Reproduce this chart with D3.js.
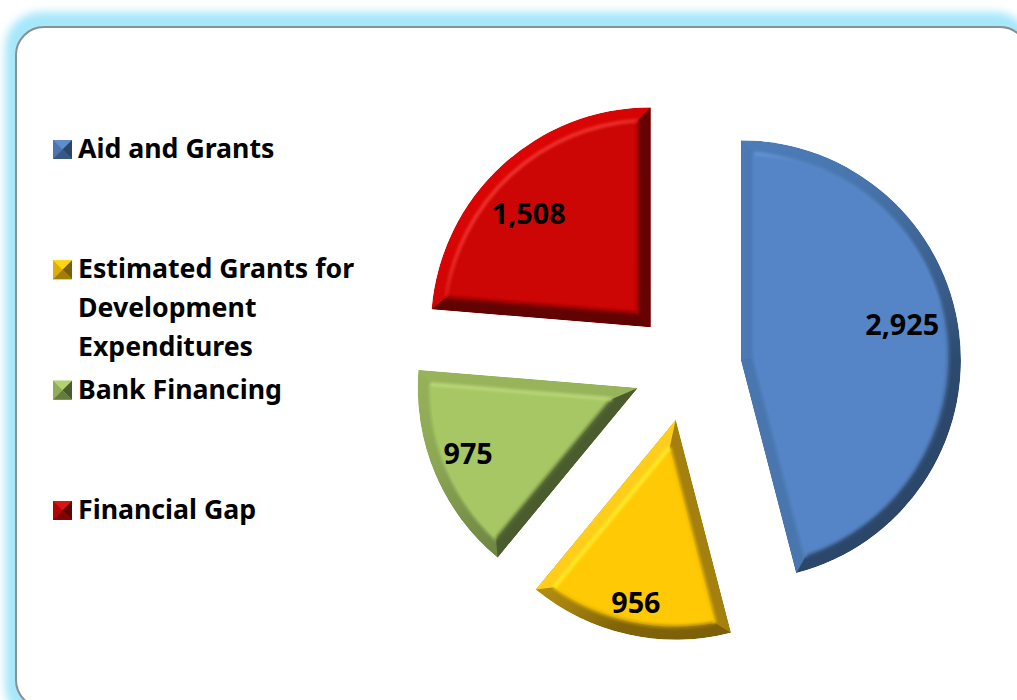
<!DOCTYPE html>
<html><head><meta charset="utf-8">
<script src="https://cdn.jsdelivr.net/npm/d3@7/dist/d3.min.js"></script>
<style>html,body{margin:0;padding:0;background:#fff;overflow:hidden}svg{display:block}</style>
</head><body><svg id="c" width="1017" height="700"></svg>
<script>
const categories = ["Aid and Grants","Estimated Grants for Development Expenditures","Bank Financing","Financial Gap"];
const legendLines = [["Aid and Grants"],["Estimated Grants for","Development","Expenditures"],["Bank Financing"],["Financial Gap"]];
const values = [2925,956,975,1508];
const valueLabels = ["2,925","956","975","1,508"];
const faceColors = ["#5585c6","#ffc906","#a6c764","#cc0505"];
const litColors  = ["#4f80bd","#ffcf1a","#9dbb5e","#dd0404"];
const darkColors = ["#2b4669","#7a5e08","#4a5c2e","#5e0303"];
const hiColors   = ["#76a4e6","#fff02a","#cfe98f","#f23a34"];

const W=1017,H=700,cx=687.4,cy=367,R=220,explode=54,bevel=13;
const FONT='"Noto Sans","Open Sans",sans-serif';
const svg=d3.select("#c");
const defs=svg.append("defs");
const glow=defs.append("filter").attr("id","glow").attr("x","-5%").attr("y","-5%").attr("width","110%").attr("height","110%");
glow.append("feGaussianBlur").attr("stdDeviation",4);
const soft=defs.append("filter").attr("id","soft").attr("x","-10%").attr("y","-10%").attr("width","120%").attr("height","120%");
soft.append("feGaussianBlur").attr("stdDeviation",1.4);

// card
svg.append("rect").attr("x",5).attr("y",12).attr("width",1026).attr("height",710).attr("rx",36)
  .attr("fill","#a5e7fb").attr("filter","url(#glow)");
svg.append("rect").attr("x",16).attr("y",27).attr("width",1012).attr("height",681).attr("rx",28)
  .attr("fill","#fff").attr("stroke","#8a8f92").attr("stroke-width",2);

const pie=d3.pie().sort(null).value(d=>d)(values);
const arcGen=d3.arc();
const L=[-0.6,-0.8];
const P=(r,a)=>[r*Math.sin(a),-r*Math.cos(a)];
const dotScale=d3.scaleLinear().domain([1,0.3,0,-0.35,-0.6,-1]).range([0,0.2,0.42,0.65,0.95,1]).clamp(true);
const hiScale=d3.scaleLinear().domain([1,0.85,0.6,-0.3,-1]).range([1,0.95,0,0,0]).clamp(true);

function facet(pts){ const p=d3.path(); pts.forEach((q,i)=>i?p.lineTo(q[0],q[1]):p.moveTo(q[0],q[1])); p.closePath(); return p.toString(); }
const dot=n=>n[0]*L[0]+n[1]*L[1];
const shade=(i,n)=>d3.interpolateRgb(litColors[i],darkColors[i])(dotScale(dot(n)));
const rim=(i,d)=> d>-0.3 ? d3.interpolateRgb(faceColors[i],hiColors[i])(hiScale(d))
                         : d3.interpolateRgb(faceColors[i],darkColors[i])(Math.min(1,(-d-0.3)*1.2));

pie.forEach((d,i)=>{
  const mid=(d.startAngle+d.endAngle)/2, off=P(explode,mid);
  const g=svg.append("g").attr("transform",`translate(${cx+off[0]},${cy+off[1]})`);
  const half=(d.endAngle-d.startAngle)/2, ri=R-bevel, del=Math.asin(bevel/ri);
  const a0=d.startAngle,a1=d.endAngle;
  const apexIn=P(bevel/Math.sin(half),mid);
  const gid="g"+i;
  const lg=defs.append("linearGradient").attr("id",gid).attr("gradientUnits","userSpaceOnUse")
    .attr("x1",L[0]*R).attr("y1",L[1]*R).attr("x2",-L[0]*R).attr("y2",-L[1]*R);
  d3.range(0,1.001,0.05).forEach(t=>lg.append("stop").attr("offset",t).attr("stop-color",
    d3.interpolateRgb(litColors[i],darkColors[i])(dotScale(1-2*t))));
  const hg="h"+i;
  const hl=defs.append("linearGradient").attr("id",hg).attr("gradientUnits","userSpaceOnUse")
    .attr("x1",L[0]*ri).attr("y1",L[1]*ri).attr("x2",-L[0]*ri).attr("y2",-L[1]*ri);
  d3.range(0,1.001,0.05).forEach(t=>hl.append("stop").attr("offset",t).attr("stop-color",rim(i,1-2*t)));

  const slice=arcGen({innerRadius:0,outerRadius:R,startAngle:a0,endAngle:a1});
  defs.append("clipPath").attr("id","cp"+i).append("path").attr("d",slice);
  const body=g.append("g").attr("clip-path",`url(#cp${i})`);
  body.append("path").attr("d",slice).attr("fill",`url(#${gid})`);
  const n0=[-Math.cos(a0),-Math.sin(a0)], n1=[Math.cos(a1),Math.sin(a1)];
  const e0=[[0,0],P(R,a0),P(ri,a0+del),apexIn], e1=[[0,0],P(R,a1),P(ri,a1-del),apexIn];
  body.append("path").attr("d",facet(e0)).attr("fill",shade(i,n0));
  body.append("path").attr("d",facet(e1)).attr("fill",shade(i,n1));
  // face
  const fp=d3.path();
  fp.moveTo(apexIn[0],apexIn[1]);
  const s=P(ri,a0+del); fp.lineTo(s[0],s[1]);
  fp.arc(0,0,ri,a0+del-Math.PI/2,a1-del-Math.PI/2,false);
  fp.closePath();
  body.append("path").attr("d",fp.toString()).attr("fill",faceColors[i]);
  // soft rim: highlight on lit sides, shadow on dark sides
  const rimG=body.append("g").attr("filter","url(#soft)").attr("fill","none").attr("stroke-width",3.2).attr("stroke-linecap","butt");
  const ap=d3.path(); ap.arc(0,0,ri,a0+del-Math.PI/2,a1-del-Math.PI/2,false);
  rimG.append("path").attr("d",ap.toString()).attr("stroke",`url(#${hg})`);
  rimG.append("path").attr("d",d3.line()([apexIn,P(ri,a0+del)])).attr("stroke",rim(i,dot(n0)));
  rimG.append("path").attr("d",d3.line()([apexIn,P(ri,a1-del)])).attr("stroke",rim(i,dot(n1)));
});

// value label anchor per slice, polar from the slice's own apex: [fraction of radius, degrees]
const labelPolar=[[0.75,77.7],[0.85,192.3],[0.827,248.7],[0.759,313]];
pie.forEach((d,i)=>{
  const mid=(d.startAngle+d.endAngle)/2, off=P(explode,mid);
  const q=P(R*labelPolar[i][0],labelPolar[i][1]*Math.PI/180);
  svg.append("text").attr("x",cx+off[0]+q[0]).attr("y",cy+off[1]+q[1]).attr("dy","0.36em")
    .attr("text-anchor","middle").attr("font-family",FONT).attr("font-weight",700).attr("font-size",28.7)
    .attr("fill","#000").text(valueLabels[i]);
});

// legend
const legendY=d3.scalePoint().domain(categories).range([148,509]);
categories.forEach((c,i)=>{
  const y=legendY(c), x0=53,sz=19;
  const g=svg.append("g").attr("transform",`translate(${x0},${y-8})`);
  const fc=faceColors[i],dk=darkColors[i];
  g.append("rect").attr("width",sz).attr("height",sz).attr("fill",fc);
  g.append("path").attr("d",facet([[0,0],[sz,0],[sz/2,sz/2]])).attr("fill",d3.interpolateRgb(fc,hiColors[i])(0.3));
  g.append("path").attr("d",facet([[0,0],[0,sz],[sz/2,sz/2]])).attr("fill",d3.interpolateRgb(fc,dk)(0.25));
  g.append("path").attr("d",facet([[sz,0],[sz,sz],[sz/2,sz/2]])).attr("fill",dk);
  g.append("path").attr("d",facet([[0,sz],[sz,sz],[sz/2,sz/2]])).attr("fill",d3.interpolateRgb(dk,fc)(0.3));
  legendLines[i].forEach((t,j)=>{
    svg.append("text").attr("x",78).attr("y",y+0.3+j*39).attr("dy","0.36em")
      .attr("font-family",FONT).attr("font-weight",700).attr("font-size",26.7).attr("fill","#000").text(t);
  });
});
</script></body></html>
